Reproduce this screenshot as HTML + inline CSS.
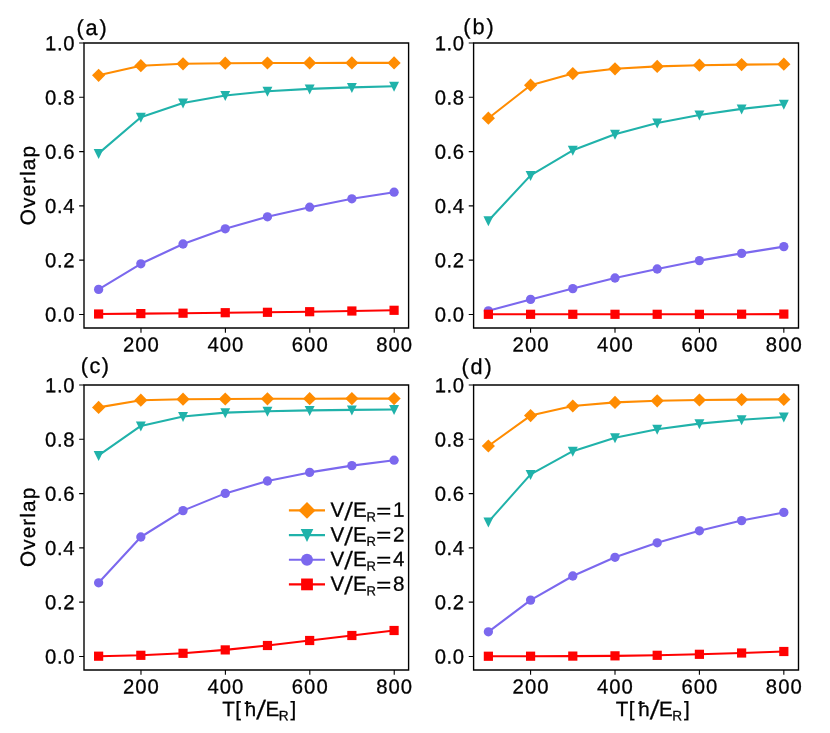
<!DOCTYPE html>
<html lang="en">
<head>
<meta charset="utf-8">
<title>Overlap vs T</title>
<style>
html,body{margin:0;padding:0;background:#fff;}
body{width:830px;height:733px;overflow:hidden;font-family:"Liberation Sans", sans-serif;}
svg{display:block;font-family:"Liberation Sans", sans-serif;fill:#000;text-rendering:geometricPrecision;}
text{stroke:#000;stroke-width:0.3px;}
</style>
</head>
<body>
<svg width="830" height="733" viewBox="0 0 830 733">
<rect width="830" height="733" fill="#fff"/>
<g opacity="0.999">
<g>
<polyline points="98.62,75.3 140.83,65.7 183.04,63.8 225.25,63.2 267.45,63 309.66,62.95 351.87,62.9 394.08,62.9" fill="none" stroke="#FF8C00" stroke-width="2.08" stroke-linejoin="round"/>
<path d="M98.62 68.7L105.22 75.3L98.62 81.9L92.02 75.3Z" fill="#FF8C00"/>
<path d="M140.83 59.1L147.43 65.7L140.83 72.3L134.23 65.7Z" fill="#FF8C00"/>
<path d="M183.04 57.2L189.64 63.8L183.04 70.4L176.44 63.8Z" fill="#FF8C00"/>
<path d="M225.25 56.6L231.85 63.2L225.25 69.8L218.65 63.2Z" fill="#FF8C00"/>
<path d="M267.45 56.4L274.05 63L267.45 69.6L260.85 63Z" fill="#FF8C00"/>
<path d="M309.66 56.35L316.26 62.95L309.66 69.55L303.06 62.95Z" fill="#FF8C00"/>
<path d="M351.87 56.3L358.47 62.9L351.87 69.5L345.27 62.9Z" fill="#FF8C00"/>
<path d="M394.08 56.3L400.68 62.9L394.08 69.5L387.48 62.9Z" fill="#FF8C00"/>
<polyline points="98.62,153.4 140.83,117.3 183.04,102.9 225.25,95.5 267.45,91.3 309.66,88.9 351.87,87.4 394.08,86.3" fill="none" stroke="#20B2AA" stroke-width="2.08" stroke-linejoin="round"/>
<path d="M93.67 148.95L103.57 148.95L98.62 158.95Z" fill="#20B2AA"/>
<path d="M135.88 112.85L145.78 112.85L140.83 122.85Z" fill="#20B2AA"/>
<path d="M178.09 98.45L187.99 98.45L183.04 108.45Z" fill="#20B2AA"/>
<path d="M220.3 91.05L230.2 91.05L225.25 101.05Z" fill="#20B2AA"/>
<path d="M262.5 86.85L272.4 86.85L267.45 96.85Z" fill="#20B2AA"/>
<path d="M304.71 84.45L314.61 84.45L309.66 94.45Z" fill="#20B2AA"/>
<path d="M346.92 82.95L356.82 82.95L351.87 92.95Z" fill="#20B2AA"/>
<path d="M389.13 81.85L399.03 81.85L394.08 91.85Z" fill="#20B2AA"/>
<polyline points="98.62,289.4 140.83,263.8 183.04,244 225.25,228.8 267.45,216.8 309.66,207.2 351.87,198.8 394.08,192.2" fill="none" stroke="#7B68EE" stroke-width="2.08" stroke-linejoin="round"/>
<circle cx="98.62" cy="289.4" r="4.65" fill="#7B68EE"/>
<circle cx="140.83" cy="263.8" r="4.65" fill="#7B68EE"/>
<circle cx="183.04" cy="244" r="4.65" fill="#7B68EE"/>
<circle cx="225.25" cy="228.8" r="4.65" fill="#7B68EE"/>
<circle cx="267.45" cy="216.8" r="4.65" fill="#7B68EE"/>
<circle cx="309.66" cy="207.2" r="4.65" fill="#7B68EE"/>
<circle cx="351.87" cy="198.8" r="4.65" fill="#7B68EE"/>
<circle cx="394.08" cy="192.2" r="4.65" fill="#7B68EE"/>
<polyline points="98.62,314 140.83,313.6 183.04,313.2 225.25,312.7 267.45,312.3 309.66,311.7 351.87,311 394.08,310.3" fill="none" stroke="#FF0000" stroke-width="2.08" stroke-linejoin="round"/>
<rect x="94.02" y="309.4" width="9.2" height="9.2" fill="#FF0000"/>
<rect x="136.23" y="309" width="9.2" height="9.2" fill="#FF0000"/>
<rect x="178.44" y="308.6" width="9.2" height="9.2" fill="#FF0000"/>
<rect x="220.65" y="308.1" width="9.2" height="9.2" fill="#FF0000"/>
<rect x="262.85" y="307.7" width="9.2" height="9.2" fill="#FF0000"/>
<rect x="305.06" y="307.1" width="9.2" height="9.2" fill="#FF0000"/>
<rect x="347.27" y="306.4" width="9.2" height="9.2" fill="#FF0000"/>
<rect x="389.48" y="305.7" width="9.2" height="9.2" fill="#FF0000"/>
<path d="M84 43H408.6V328H84Z" fill="none" stroke="#000" stroke-width="1.39" stroke-linejoin="miter"/>
<path d="M140.98 328v4.86M225.4 328v4.86M309.81 328v4.86M394.23 328v4.86M84 314.43h-4.86M84 260.14h-4.86M84 205.86h-4.86M84 151.57h-4.86M84 97.29h-4.86M84 43h-4.86" stroke="#000" stroke-width="1.11" fill="none"/>
<text transform="translate(141.43 351.5) rotate(0.05)" font-size="20.3" text-anchor="middle" letter-spacing="1.0">200</text>
<text transform="translate(225.85 351.5) rotate(0.05)" font-size="20.3" text-anchor="middle" letter-spacing="1.0">400</text>
<text transform="translate(310.26 351.5) rotate(0.05)" font-size="20.3" text-anchor="middle" letter-spacing="1.0">600</text>
<text transform="translate(394.68 351.5) rotate(0.05)" font-size="20.3" text-anchor="middle" letter-spacing="1.0">800</text>
<text transform="translate(75.05 321.63) rotate(0.05)" font-size="20.3" text-anchor="end" letter-spacing="0.6">0.0</text>
<text transform="translate(75.05 267.34) rotate(0.05)" font-size="20.3" text-anchor="end" letter-spacing="0.6">0.2</text>
<text transform="translate(75.05 213.06) rotate(0.05)" font-size="20.3" text-anchor="end" letter-spacing="0.6">0.4</text>
<text transform="translate(75.05 158.77) rotate(0.05)" font-size="20.3" text-anchor="end" letter-spacing="0.6">0.6</text>
<text transform="translate(75.05 104.49) rotate(0.05)" font-size="20.3" text-anchor="end" letter-spacing="0.6">0.8</text>
<text transform="translate(75.05 50.2) rotate(0.05)" font-size="20.3" text-anchor="end" letter-spacing="0.6">1.0</text>
</g>
<g>
<polyline points="488.37,118.2 530.58,85.2 572.79,73.6 615,68.8 657.2,66.4 699.41,65.2 741.62,64.6 783.83,64.2" fill="none" stroke="#FF8C00" stroke-width="2.08" stroke-linejoin="round"/>
<path d="M488.37 111.6L494.97 118.2L488.37 124.8L481.77 118.2Z" fill="#FF8C00"/>
<path d="M530.58 78.6L537.18 85.2L530.58 91.8L523.98 85.2Z" fill="#FF8C00"/>
<path d="M572.79 67L579.39 73.6L572.79 80.2L566.19 73.6Z" fill="#FF8C00"/>
<path d="M615 62.2L621.6 68.8L615 75.4L608.4 68.8Z" fill="#FF8C00"/>
<path d="M657.2 59.8L663.8 66.4L657.2 73L650.6 66.4Z" fill="#FF8C00"/>
<path d="M699.41 58.6L706.01 65.2L699.41 71.8L692.81 65.2Z" fill="#FF8C00"/>
<path d="M741.62 58L748.22 64.6L741.62 71.2L735.02 64.6Z" fill="#FF8C00"/>
<path d="M783.83 57.6L790.43 64.2L783.83 70.8L777.23 64.2Z" fill="#FF8C00"/>
<polyline points="488.37,220.8 530.58,175.4 572.79,150.3 615,134.3 657.2,123 699.41,115 741.62,108.9 783.83,104.2" fill="none" stroke="#20B2AA" stroke-width="2.08" stroke-linejoin="round"/>
<path d="M483.42 216.35L493.32 216.35L488.37 226.35Z" fill="#20B2AA"/>
<path d="M525.63 170.95L535.53 170.95L530.58 180.95Z" fill="#20B2AA"/>
<path d="M567.84 145.85L577.74 145.85L572.79 155.85Z" fill="#20B2AA"/>
<path d="M610.05 129.85L619.95 129.85L615 139.85Z" fill="#20B2AA"/>
<path d="M652.25 118.55L662.15 118.55L657.2 128.55Z" fill="#20B2AA"/>
<path d="M694.46 110.55L704.36 110.55L699.41 120.55Z" fill="#20B2AA"/>
<path d="M736.67 104.45L746.57 104.45L741.62 114.45Z" fill="#20B2AA"/>
<path d="M778.88 99.75L788.78 99.75L783.83 109.75Z" fill="#20B2AA"/>
<polyline points="488.37,310.8 530.58,299.4 572.79,288.6 615,278 657.2,269 699.41,260.6 741.62,253.4 783.83,246.6" fill="none" stroke="#7B68EE" stroke-width="2.08" stroke-linejoin="round"/>
<circle cx="488.37" cy="310.8" r="4.65" fill="#7B68EE"/>
<circle cx="530.58" cy="299.4" r="4.65" fill="#7B68EE"/>
<circle cx="572.79" cy="288.6" r="4.65" fill="#7B68EE"/>
<circle cx="615" cy="278" r="4.65" fill="#7B68EE"/>
<circle cx="657.2" cy="269" r="4.65" fill="#7B68EE"/>
<circle cx="699.41" cy="260.6" r="4.65" fill="#7B68EE"/>
<circle cx="741.62" cy="253.4" r="4.65" fill="#7B68EE"/>
<circle cx="783.83" cy="246.6" r="4.65" fill="#7B68EE"/>
<polyline points="488.37,314.3 530.58,314.3 572.79,314.3 615,314.3 657.2,314.3 699.41,314.3 741.62,314.2 783.83,314.1" fill="none" stroke="#FF0000" stroke-width="2.08" stroke-linejoin="round"/>
<rect x="483.77" y="309.7" width="9.2" height="9.2" fill="#FF0000"/>
<rect x="525.98" y="309.7" width="9.2" height="9.2" fill="#FF0000"/>
<rect x="568.19" y="309.7" width="9.2" height="9.2" fill="#FF0000"/>
<rect x="610.4" y="309.7" width="9.2" height="9.2" fill="#FF0000"/>
<rect x="652.6" y="309.7" width="9.2" height="9.2" fill="#FF0000"/>
<rect x="694.81" y="309.7" width="9.2" height="9.2" fill="#FF0000"/>
<rect x="737.02" y="309.6" width="9.2" height="9.2" fill="#FF0000"/>
<rect x="779.23" y="309.5" width="9.2" height="9.2" fill="#FF0000"/>
<path d="M473.6 43H798.5V328H473.6Z" fill="none" stroke="#000" stroke-width="1.39" stroke-linejoin="miter"/>
<path d="M530.58 328v4.86M615 328v4.86M699.41 328v4.86M783.83 328v4.86M473.6 314.43h-4.86M473.6 260.14h-4.86M473.6 205.86h-4.86M473.6 151.57h-4.86M473.6 97.29h-4.86M473.6 43h-4.86" stroke="#000" stroke-width="1.11" fill="none"/>
<text transform="translate(531.03 351.5) rotate(0.05)" font-size="20.3" text-anchor="middle" letter-spacing="1.0">200</text>
<text transform="translate(615.45 351.5) rotate(0.05)" font-size="20.3" text-anchor="middle" letter-spacing="1.0">400</text>
<text transform="translate(699.86 351.5) rotate(0.05)" font-size="20.3" text-anchor="middle" letter-spacing="1.0">600</text>
<text transform="translate(784.28 351.5) rotate(0.05)" font-size="20.3" text-anchor="middle" letter-spacing="1.0">800</text>
<text transform="translate(464.65 321.63) rotate(0.05)" font-size="20.3" text-anchor="end" letter-spacing="0.6">0.0</text>
<text transform="translate(464.65 267.34) rotate(0.05)" font-size="20.3" text-anchor="end" letter-spacing="0.6">0.2</text>
<text transform="translate(464.65 213.06) rotate(0.05)" font-size="20.3" text-anchor="end" letter-spacing="0.6">0.4</text>
<text transform="translate(464.65 158.77) rotate(0.05)" font-size="20.3" text-anchor="end" letter-spacing="0.6">0.6</text>
<text transform="translate(464.65 104.49) rotate(0.05)" font-size="20.3" text-anchor="end" letter-spacing="0.6">0.8</text>
<text transform="translate(464.65 50.2) rotate(0.05)" font-size="20.3" text-anchor="end" letter-spacing="0.6">1.0</text>
</g>
<g>
<polyline points="98.62,407.4 140.83,400.2 183.04,399.2 225.25,399 267.45,398.8 309.66,398.7 351.87,398.6 394.08,398.6" fill="none" stroke="#FF8C00" stroke-width="2.08" stroke-linejoin="round"/>
<path d="M98.62 400.8L105.22 407.4L98.62 414L92.02 407.4Z" fill="#FF8C00"/>
<path d="M140.83 393.6L147.43 400.2L140.83 406.8L134.23 400.2Z" fill="#FF8C00"/>
<path d="M183.04 392.6L189.64 399.2L183.04 405.8L176.44 399.2Z" fill="#FF8C00"/>
<path d="M225.25 392.4L231.85 399L225.25 405.6L218.65 399Z" fill="#FF8C00"/>
<path d="M267.45 392.2L274.05 398.8L267.45 405.4L260.85 398.8Z" fill="#FF8C00"/>
<path d="M309.66 392.1L316.26 398.7L309.66 405.3L303.06 398.7Z" fill="#FF8C00"/>
<path d="M351.87 392L358.47 398.6L351.87 405.2L345.27 398.6Z" fill="#FF8C00"/>
<path d="M394.08 392L400.68 398.6L394.08 405.2L387.48 398.6Z" fill="#FF8C00"/>
<polyline points="98.62,455.4 140.83,425.9 183.04,416.5 225.25,412.6 267.45,411.2 309.66,410.4 351.87,409.9 394.08,409.5" fill="none" stroke="#20B2AA" stroke-width="2.08" stroke-linejoin="round"/>
<path d="M93.67 450.95L103.57 450.95L98.62 460.95Z" fill="#20B2AA"/>
<path d="M135.88 421.45L145.78 421.45L140.83 431.45Z" fill="#20B2AA"/>
<path d="M178.09 412.05L187.99 412.05L183.04 422.05Z" fill="#20B2AA"/>
<path d="M220.3 408.15L230.2 408.15L225.25 418.15Z" fill="#20B2AA"/>
<path d="M262.5 406.75L272.4 406.75L267.45 416.75Z" fill="#20B2AA"/>
<path d="M304.71 405.95L314.61 405.95L309.66 415.95Z" fill="#20B2AA"/>
<path d="M346.92 405.45L356.82 405.45L351.87 415.45Z" fill="#20B2AA"/>
<path d="M389.13 405.05L399.03 405.05L394.08 415.05Z" fill="#20B2AA"/>
<polyline points="98.62,582.8 140.83,537 183.04,510.6 225.25,493.4 267.45,481 309.66,472.4 351.87,465.6 394.08,460.2" fill="none" stroke="#7B68EE" stroke-width="2.08" stroke-linejoin="round"/>
<circle cx="98.62" cy="582.8" r="4.65" fill="#7B68EE"/>
<circle cx="140.83" cy="537" r="4.65" fill="#7B68EE"/>
<circle cx="183.04" cy="510.6" r="4.65" fill="#7B68EE"/>
<circle cx="225.25" cy="493.4" r="4.65" fill="#7B68EE"/>
<circle cx="267.45" cy="481" r="4.65" fill="#7B68EE"/>
<circle cx="309.66" cy="472.4" r="4.65" fill="#7B68EE"/>
<circle cx="351.87" cy="465.6" r="4.65" fill="#7B68EE"/>
<circle cx="394.08" cy="460.2" r="4.65" fill="#7B68EE"/>
<polyline points="98.62,656.2 140.83,655.3 183.04,653.3 225.25,649.9 267.45,645.5 309.66,640.5 351.87,635.5 394.08,630.5" fill="none" stroke="#FF0000" stroke-width="2.08" stroke-linejoin="round"/>
<rect x="94.02" y="651.6" width="9.2" height="9.2" fill="#FF0000"/>
<rect x="136.23" y="650.7" width="9.2" height="9.2" fill="#FF0000"/>
<rect x="178.44" y="648.7" width="9.2" height="9.2" fill="#FF0000"/>
<rect x="220.65" y="645.3" width="9.2" height="9.2" fill="#FF0000"/>
<rect x="262.85" y="640.9" width="9.2" height="9.2" fill="#FF0000"/>
<rect x="305.06" y="635.9" width="9.2" height="9.2" fill="#FF0000"/>
<rect x="347.27" y="630.9" width="9.2" height="9.2" fill="#FF0000"/>
<rect x="389.48" y="625.9" width="9.2" height="9.2" fill="#FF0000"/>
<path d="M84 385H408.6V670H84Z" fill="none" stroke="#000" stroke-width="1.39" stroke-linejoin="miter"/>
<path d="M140.98 670v4.86M225.4 670v4.86M309.81 670v4.86M394.23 670v4.86M84 656.43h-4.86M84 602.14h-4.86M84 547.86h-4.86M84 493.57h-4.86M84 439.29h-4.86M84 385h-4.86" stroke="#000" stroke-width="1.11" fill="none"/>
<text transform="translate(141.43 693.5) rotate(0.05)" font-size="20.3" text-anchor="middle" letter-spacing="1.0">200</text>
<text transform="translate(225.85 693.5) rotate(0.05)" font-size="20.3" text-anchor="middle" letter-spacing="1.0">400</text>
<text transform="translate(310.26 693.5) rotate(0.05)" font-size="20.3" text-anchor="middle" letter-spacing="1.0">600</text>
<text transform="translate(394.68 693.5) rotate(0.05)" font-size="20.3" text-anchor="middle" letter-spacing="1.0">800</text>
<text transform="translate(75.05 663.63) rotate(0.05)" font-size="20.3" text-anchor="end" letter-spacing="0.6">0.0</text>
<text transform="translate(75.05 609.34) rotate(0.05)" font-size="20.3" text-anchor="end" letter-spacing="0.6">0.2</text>
<text transform="translate(75.05 555.06) rotate(0.05)" font-size="20.3" text-anchor="end" letter-spacing="0.6">0.4</text>
<text transform="translate(75.05 500.77) rotate(0.05)" font-size="20.3" text-anchor="end" letter-spacing="0.6">0.6</text>
<text transform="translate(75.05 446.49) rotate(0.05)" font-size="20.3" text-anchor="end" letter-spacing="0.6">0.8</text>
<text transform="translate(75.05 392.2) rotate(0.05)" font-size="20.3" text-anchor="end" letter-spacing="0.6">1.0</text>
</g>
<g>
<polyline points="488.37,446 530.58,415.6 572.79,406 615,402.4 657.2,400.8 699.41,400 741.62,399.6 783.83,399.4" fill="none" stroke="#FF8C00" stroke-width="2.08" stroke-linejoin="round"/>
<path d="M488.37 439.4L494.97 446L488.37 452.6L481.77 446Z" fill="#FF8C00"/>
<path d="M530.58 409L537.18 415.6L530.58 422.2L523.98 415.6Z" fill="#FF8C00"/>
<path d="M572.79 399.4L579.39 406L572.79 412.6L566.19 406Z" fill="#FF8C00"/>
<path d="M615 395.8L621.6 402.4L615 409L608.4 402.4Z" fill="#FF8C00"/>
<path d="M657.2 394.2L663.8 400.8L657.2 407.4L650.6 400.8Z" fill="#FF8C00"/>
<path d="M699.41 393.4L706.01 400L699.41 406.6L692.81 400Z" fill="#FF8C00"/>
<path d="M741.62 393L748.22 399.6L741.62 406.2L735.02 399.6Z" fill="#FF8C00"/>
<path d="M783.83 392.8L790.43 399.4L783.83 406L777.23 399.4Z" fill="#FF8C00"/>
<polyline points="488.37,521.9 530.58,474.4 572.79,451.2 615,437.8 657.2,429.2 699.41,423.6 741.62,419.8 783.83,417" fill="none" stroke="#20B2AA" stroke-width="2.08" stroke-linejoin="round"/>
<path d="M483.42 517.45L493.32 517.45L488.37 527.45Z" fill="#20B2AA"/>
<path d="M525.63 469.95L535.53 469.95L530.58 479.95Z" fill="#20B2AA"/>
<path d="M567.84 446.75L577.74 446.75L572.79 456.75Z" fill="#20B2AA"/>
<path d="M610.05 433.35L619.95 433.35L615 443.35Z" fill="#20B2AA"/>
<path d="M652.25 424.75L662.15 424.75L657.2 434.75Z" fill="#20B2AA"/>
<path d="M694.46 419.15L704.36 419.15L699.41 429.15Z" fill="#20B2AA"/>
<path d="M736.67 415.35L746.57 415.35L741.62 425.35Z" fill="#20B2AA"/>
<path d="M778.88 412.55L788.78 412.55L783.83 422.55Z" fill="#20B2AA"/>
<polyline points="488.37,631.8 530.58,600.1 572.79,576 615,557.3 657.2,542.8 699.41,530.8 741.62,520.6 783.83,512.4" fill="none" stroke="#7B68EE" stroke-width="2.08" stroke-linejoin="round"/>
<circle cx="488.37" cy="631.8" r="4.65" fill="#7B68EE"/>
<circle cx="530.58" cy="600.1" r="4.65" fill="#7B68EE"/>
<circle cx="572.79" cy="576" r="4.65" fill="#7B68EE"/>
<circle cx="615" cy="557.3" r="4.65" fill="#7B68EE"/>
<circle cx="657.2" cy="542.8" r="4.65" fill="#7B68EE"/>
<circle cx="699.41" cy="530.8" r="4.65" fill="#7B68EE"/>
<circle cx="741.62" cy="520.6" r="4.65" fill="#7B68EE"/>
<circle cx="783.83" cy="512.4" r="4.65" fill="#7B68EE"/>
<polyline points="488.37,656.25 530.58,656.2 572.79,656.1 615,655.85 657.2,655.3 699.41,654.3 741.62,653 783.83,651.5" fill="none" stroke="#FF0000" stroke-width="2.08" stroke-linejoin="round"/>
<rect x="483.77" y="651.65" width="9.2" height="9.2" fill="#FF0000"/>
<rect x="525.98" y="651.6" width="9.2" height="9.2" fill="#FF0000"/>
<rect x="568.19" y="651.5" width="9.2" height="9.2" fill="#FF0000"/>
<rect x="610.4" y="651.25" width="9.2" height="9.2" fill="#FF0000"/>
<rect x="652.6" y="650.7" width="9.2" height="9.2" fill="#FF0000"/>
<rect x="694.81" y="649.7" width="9.2" height="9.2" fill="#FF0000"/>
<rect x="737.02" y="648.4" width="9.2" height="9.2" fill="#FF0000"/>
<rect x="779.23" y="646.9" width="9.2" height="9.2" fill="#FF0000"/>
<path d="M473.6 385H798.5V670H473.6Z" fill="none" stroke="#000" stroke-width="1.39" stroke-linejoin="miter"/>
<path d="M530.58 670v4.86M615 670v4.86M699.41 670v4.86M783.83 670v4.86M473.6 656.43h-4.86M473.6 602.14h-4.86M473.6 547.86h-4.86M473.6 493.57h-4.86M473.6 439.29h-4.86M473.6 385h-4.86" stroke="#000" stroke-width="1.11" fill="none"/>
<text transform="translate(531.03 693.5) rotate(0.05)" font-size="20.3" text-anchor="middle" letter-spacing="1.0">200</text>
<text transform="translate(615.45 693.5) rotate(0.05)" font-size="20.3" text-anchor="middle" letter-spacing="1.0">400</text>
<text transform="translate(699.86 693.5) rotate(0.05)" font-size="20.3" text-anchor="middle" letter-spacing="1.0">600</text>
<text transform="translate(784.28 693.5) rotate(0.05)" font-size="20.3" text-anchor="middle" letter-spacing="1.0">800</text>
<text transform="translate(464.65 663.63) rotate(0.05)" font-size="20.3" text-anchor="end" letter-spacing="0.6">0.0</text>
<text transform="translate(464.65 609.34) rotate(0.05)" font-size="20.3" text-anchor="end" letter-spacing="0.6">0.2</text>
<text transform="translate(464.65 555.06) rotate(0.05)" font-size="20.3" text-anchor="end" letter-spacing="0.6">0.4</text>
<text transform="translate(464.65 500.77) rotate(0.05)" font-size="20.3" text-anchor="end" letter-spacing="0.6">0.6</text>
<text transform="translate(464.65 446.49) rotate(0.05)" font-size="20.3" text-anchor="end" letter-spacing="0.6">0.8</text>
<text transform="translate(464.65 392.2) rotate(0.05)" font-size="20.3" text-anchor="end" letter-spacing="0.6">1.0</text>
</g>
<text transform="translate(76.5 35) rotate(0.05)" font-size="21.7" text-anchor="start" letter-spacing="1.9">(a)</text>
<text transform="translate(463.3 34) rotate(0.05)" font-size="21.7" text-anchor="start" letter-spacing="1.9">(b)</text>
<text transform="translate(80.8 372.9) rotate(0.05)" font-size="21.7" text-anchor="start" letter-spacing="1.5">(c)</text>
<text transform="translate(461.5 374.1) rotate(0.05)" font-size="21.7" text-anchor="start" letter-spacing="1.9">(d)</text>
<text transform="translate(35.2 185.1) rotate(-90)" font-size="20.8" text-anchor="middle" letter-spacing="1.05">Overlap</text>
<text transform="translate(35.2 526.85) rotate(-90)" font-size="20.8" text-anchor="middle" letter-spacing="1.05">Overlap</text>
<text transform="translate(221.9 716) rotate(0.05)" font-size="20.6"><tspan x="0.3 13.4 22.9">T[ħ</tspan><tspan x="43.7">E</tspan><tspan x="56.9" dy="4.3" font-size="13.6">R</tspan><tspan x="68.7" dy="-4.3">]</tspan></text>
<text transform="translate(256.3 719.4) skewX(-7)" font-size="26.5" stroke="none">/</text>
<text transform="translate(615.4 716) rotate(0.05)" font-size="20.6"><tspan x="0.3 13.4 22.9">T[ħ</tspan><tspan x="43.7">E</tspan><tspan x="56.9" dy="4.3" font-size="13.6">R</tspan><tspan x="68.7" dy="-4.3">]</tspan></text>
<text transform="translate(649.8 719.4) skewX(-7)" font-size="26.5" stroke="none">/</text>
<path d="M288.9 510.4H325" stroke="#FF8C00" stroke-width="2.08"/>
<path d="M307 501.95L315.45 510.4L307 518.85L298.55 510.4Z" fill="#FF8C00"/>
<text transform="translate(330 516.8) rotate(0.05)" font-size="20.6"><tspan x="0.6">V</tspan><tspan x="22.9">E</tspan><tspan x="36.6" dy="4.3" font-size="13">R</tspan></text>
<text transform="translate(344.2 519.8) skewX(-5.5)" font-size="24.9" stroke="none">/</text>
<text transform="translate(376.35 517.7) scale(1.25 1)" font-size="20.6">=</text>
<text transform="translate(393.1 516.8) rotate(0.05)" font-size="20.6" text-anchor="start">1</text>
<path d="M288.9 535.1H325" stroke="#20B2AA" stroke-width="2.08"/>
<path d="M300.66 529.1L313.34 529.1L307 541.9Z" fill="#20B2AA"/>
<text transform="translate(330 541.5) rotate(0.05)" font-size="20.6"><tspan x="0.6">V</tspan><tspan x="22.9">E</tspan><tspan x="36.6" dy="4.3" font-size="13">R</tspan></text>
<text transform="translate(344.2 544.5) skewX(-5.5)" font-size="24.9" stroke="none">/</text>
<text transform="translate(376.35 542.4) scale(1.25 1)" font-size="20.6">=</text>
<text transform="translate(393.1 541.5) rotate(0.05)" font-size="20.6" text-anchor="start">2</text>
<path d="M288.9 559.7H325" stroke="#7B68EE" stroke-width="2.08"/>
<circle cx="307" cy="559.7" r="5.95" fill="#7B68EE"/>
<text transform="translate(330 566.1) rotate(0.05)" font-size="20.6"><tspan x="0.6">V</tspan><tspan x="22.9">E</tspan><tspan x="36.6" dy="4.3" font-size="13">R</tspan></text>
<text transform="translate(344.2 569.1) skewX(-5.5)" font-size="24.9" stroke="none">/</text>
<text transform="translate(376.35 567) scale(1.25 1)" font-size="20.6">=</text>
<text transform="translate(393.1 566.1) rotate(0.05)" font-size="20.6" text-anchor="start">4</text>
<path d="M288.9 584.4H325" stroke="#FF0000" stroke-width="2.08"/>
<rect x="301.11" y="578.51" width="11.78" height="11.78" fill="#FF0000"/>
<text transform="translate(330 590.8) rotate(0.05)" font-size="20.6"><tspan x="0.6">V</tspan><tspan x="22.9">E</tspan><tspan x="36.6" dy="4.3" font-size="13">R</tspan></text>
<text transform="translate(344.2 593.8) skewX(-5.5)" font-size="24.9" stroke="none">/</text>
<text transform="translate(376.35 591.7) scale(1.25 1)" font-size="20.6">=</text>
<text transform="translate(393.1 590.8) rotate(0.05)" font-size="20.6" text-anchor="start">8</text>
</g>
</svg>
</body>
</html>
